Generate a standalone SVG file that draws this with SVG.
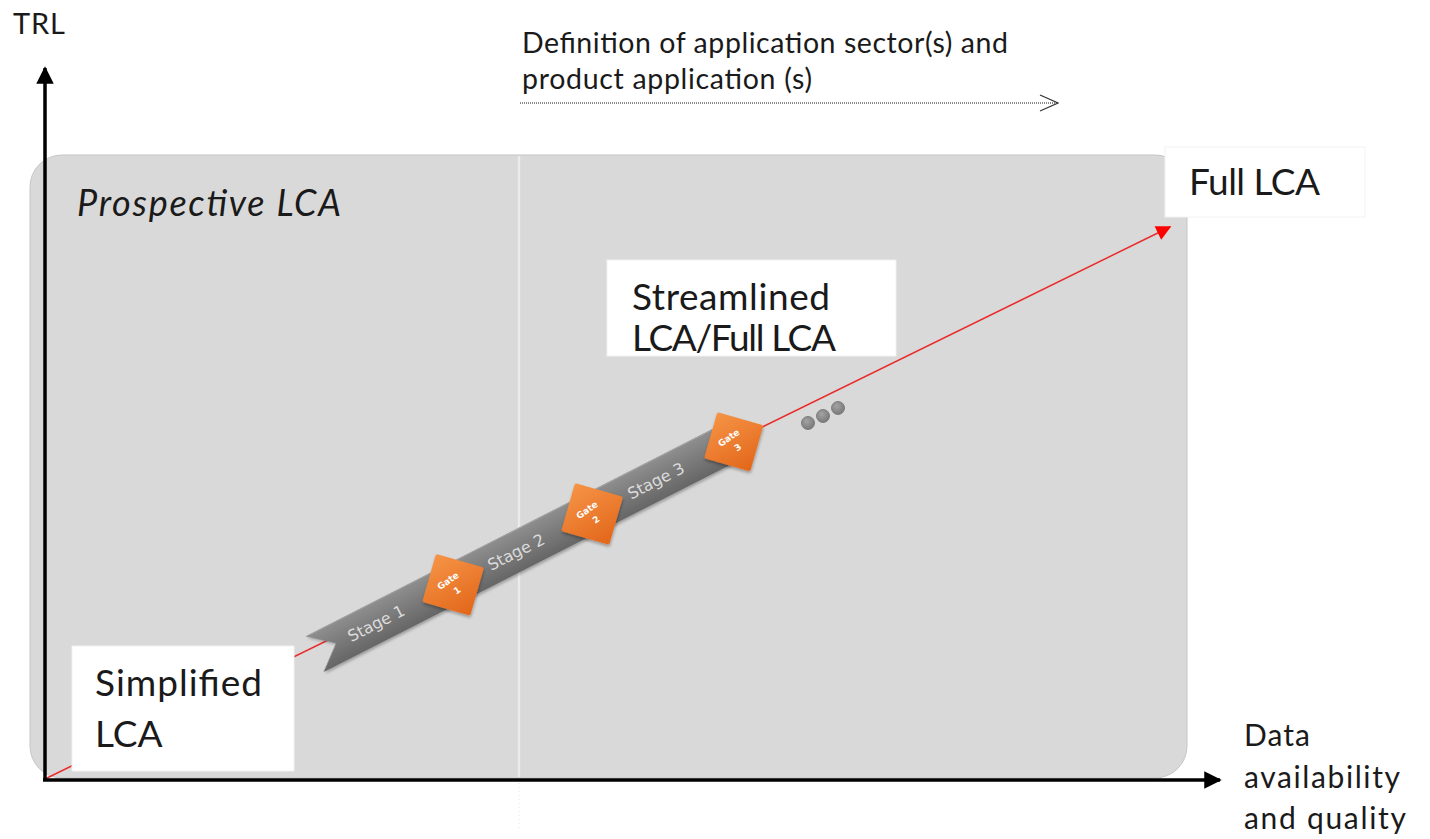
<svg xmlns="http://www.w3.org/2000/svg" width="1430" height="839" viewBox="0 0 1430 839">
  <style>
    .lbl { font-family: Lato, "Open Sans", "Liberation Sans", sans-serif; fill: #1a1a1a; }
    .box { fill: #ffffff; stroke: #f2f2f2; stroke-width: 1; }
    .stage { font-family: "DejaVu Sans", "Liberation Sans", sans-serif; font-size: 16px; fill: #dcdcdc; }
    .gate-t { font-family: "DejaVu Sans", "Liberation Sans", sans-serif; font-size: 9px; font-weight: bold; fill: #ffffff; text-anchor: middle; }
    .axis { stroke: #000000; stroke-width: 3.5; fill: none; }
  </style>
  <defs>
    <marker id="axisHead" viewBox="0 0 10 10" refX="9" refY="5" markerWidth="5" markerHeight="5" orient="auto" markerUnits="strokeWidth">
      <path d="M0,0 L10,5 L0,10 Z" fill="#000000"/>
    </marker>
    <marker id="redHead" viewBox="0 0 10 10" refX="9" refY="5" markerWidth="12" markerHeight="10" orient="auto" markerUnits="strokeWidth">
      <path d="M0,0 L10,5 L0,10 Z" fill="#ff0000"/>
    </marker>
    <marker id="openHead" viewBox="0 0 20 20" refX="19" refY="10" markerWidth="20" markerHeight="20" orient="auto" markerUnits="userSpaceOnUse">
      <path d="M1,2 L19,10 L1,18" fill="none" stroke="#333333" stroke-width="1.2"/>
    </marker>
    <linearGradient id="ribbonGrad" x1="0" y1="0" x2="0" y2="1">
      <stop offset="0" stop-color="#8e8e8e"/>
      <stop offset="0.5" stop-color="#7a7a7a"/>
      <stop offset="1" stop-color="#666666"/>
    </linearGradient>
    <linearGradient id="gateGrad" x1="0" y1="0" x2="1" y2="1">
      <stop offset="0" stop-color="#f69446"/>
      <stop offset="1" stop-color="#e2661a"/>
    </linearGradient>
    <radialGradient id="dotGrad" cx="0.4" cy="0.35" r="0.7">
      <stop offset="0" stop-color="#a3a3a3"/>
      <stop offset="1" stop-color="#777777"/>
    </radialGradient>
    <filter id="soft" x="-30%" y="-30%" width="160%" height="160%">
      <feDropShadow dx="1" dy="2" stdDeviation="1.5" flood-color="#000000" flood-opacity="0.3"/>
    </filter>
  </defs>

  <!-- prospective LCA region -->
  <g id="prospective-lca">
    <rect x="30" y="155" width="1157" height="623" rx="32" ry="32" fill="#d9d9d9" stroke="#c6c6c6" stroke-width="1"/>
    <text class="lbl" x="77" y="216" font-size="36" font-style="italic" textLength="264">Prospective LCA</text>
  </g>

  <!-- divider marking where the application is defined -->
  <g id="divider">
    <line x1="519" y1="156" x2="519" y2="777" stroke="#ebebeb" stroke-width="2.5"/>
    <line x1="519" y1="783" x2="519" y2="830" stroke="#e4e4e4" stroke-width="1" stroke-dasharray="1 3"/>
  </g>

  <g id="connectors">
    <!-- LCA progression line -->
    <line x1="45" y1="779" x2="1170" y2="227" stroke="#ea2b2b" stroke-width="1.5" marker-end="url(#redHead)"/>
    <!-- application definition arrow -->
    <line x1="520" y1="103" x2="1058" y2="103" stroke="#666666" stroke-width="1.5" stroke-dasharray="1 1" marker-end="url(#openHead)"/>
  </g>

  <!-- stage-gate ribbon -->
  <g id="stage-gate" transform="translate(319,652) rotate(-27)">
    <g filter="url(#soft)">
      <path d="M-5,-20 L152,-20 L152,20 L-5,20 L19,0 Z" fill="url(#ribbonGrad)"/>
      <rect x="146" y="-20" width="164" height="40" fill="url(#ribbonGrad)"/>
      <path d="M302,-20 L466,-20 Q474,-20 474,-12 L474,12 Q474,20 466,20 L302,20 Z" fill="url(#ribbonGrad)"/>
    </g>
    <line x1="0" y1="-19.5" x2="466" y2="-19.5" stroke="#a2a2a2" stroke-width="1"/>
    <text class="stage" x="64" y="6" text-anchor="middle">Stage 1</text>
    <text class="stage" x="221" y="6" text-anchor="middle">Stage 2</text>
    <text class="stage" x="378" y="6" text-anchor="middle">Stage 3</text>

    <g id="gate-1" transform="translate(150,1)">
      <rect x="-25" y="-25" width="50" height="50" rx="2" transform="rotate(43)" fill="url(#gateGrad)" filter="url(#soft)"/>
      <g transform="rotate(-8)">
        <text class="gate-t" x="-2" y="-3">Gate</text>
        <text class="gate-t" x="0" y="10">1</text>
      </g>
    </g>
    <g id="gate-2" transform="translate(306,1)">
      <rect x="-25" y="-25" width="50" height="50" rx="2" transform="rotate(43)" fill="url(#gateGrad)" filter="url(#soft)"/>
      <g transform="rotate(-8)">
        <text class="gate-t" x="-2" y="-3">Gate</text>
        <text class="gate-t" x="0" y="10">2</text>
      </g>
    </g>
    <g id="gate-3" transform="translate(465,1)">
      <rect x="-24" y="-24" width="48" height="48" rx="2" transform="rotate(43)" fill="url(#gateGrad)" filter="url(#soft)"/>
      <g transform="rotate(-8)">
        <text class="gate-t" x="-2" y="-3">Gate</text>
        <text class="gate-t" x="0" y="10">3</text>
      </g>
    </g>
  </g>

  <!-- continuation dots -->
  <g id="more">
    <circle cx="808" cy="423" r="6.5" fill="url(#dotGrad)" stroke="#707070" stroke-width="0.8"/>
    <circle cx="823" cy="416" r="6.5" fill="url(#dotGrad)" stroke="#707070" stroke-width="0.8"/>
    <circle cx="838" cy="408" r="6.5" fill="url(#dotGrad)" stroke="#707070" stroke-width="0.8"/>
  </g>

  <!-- LCA type labels -->
  <g id="simplified-lca">
    <rect class="box" x="72" y="646" width="222" height="125"/>
    <text class="lbl" x="95" y="696" font-size="37" textLength="167">Simplified</text>
    <text class="lbl" x="95" y="747" font-size="37">LCA</text>
  </g>
  <g id="streamlined-lca">
    <rect class="box" x="607" y="260" width="289" height="96"/>
    <text class="lbl" x="632" y="310" font-size="37" textLength="198">Streamlined</text>
    <text class="lbl" x="632" y="351" font-size="37" textLength="204">LCA/Full LCA</text>
  </g>
  <g id="full-lca">
    <rect class="box" x="1165" y="147" width="200" height="70"/>
    <text class="lbl" x="1189" y="195" font-size="37" textLength="131">Full LCA</text>
  </g>

  <!-- axes -->
  <g id="axes">
    <line class="axis" x1="45" y1="781" x2="45" y2="68" marker-end="url(#axisHead)"/>
    <line class="axis" x1="43" y1="780" x2="1220" y2="780" marker-end="url(#axisHead)"/>
    <text class="lbl" x="13" y="34" font-size="29" textLength="52">TRL</text>
    <text class="lbl" x="1244" y="746" font-size="30" textLength="66">Data</text>
    <text class="lbl" x="1244" y="788" font-size="30" textLength="156">availability</text>
    <text class="lbl" x="1244" y="829" font-size="30" textLength="162">and quality</text>
  </g>

  <!-- application definition label -->
  <g id="application-definition">
    <text class="lbl" x="522" y="53" font-size="28.5" textLength="486">Definition of application sector(s) and</text>
    <text class="lbl" x="522" y="89" font-size="28.5" textLength="290">product application (s)</text>
  </g>
</svg>
